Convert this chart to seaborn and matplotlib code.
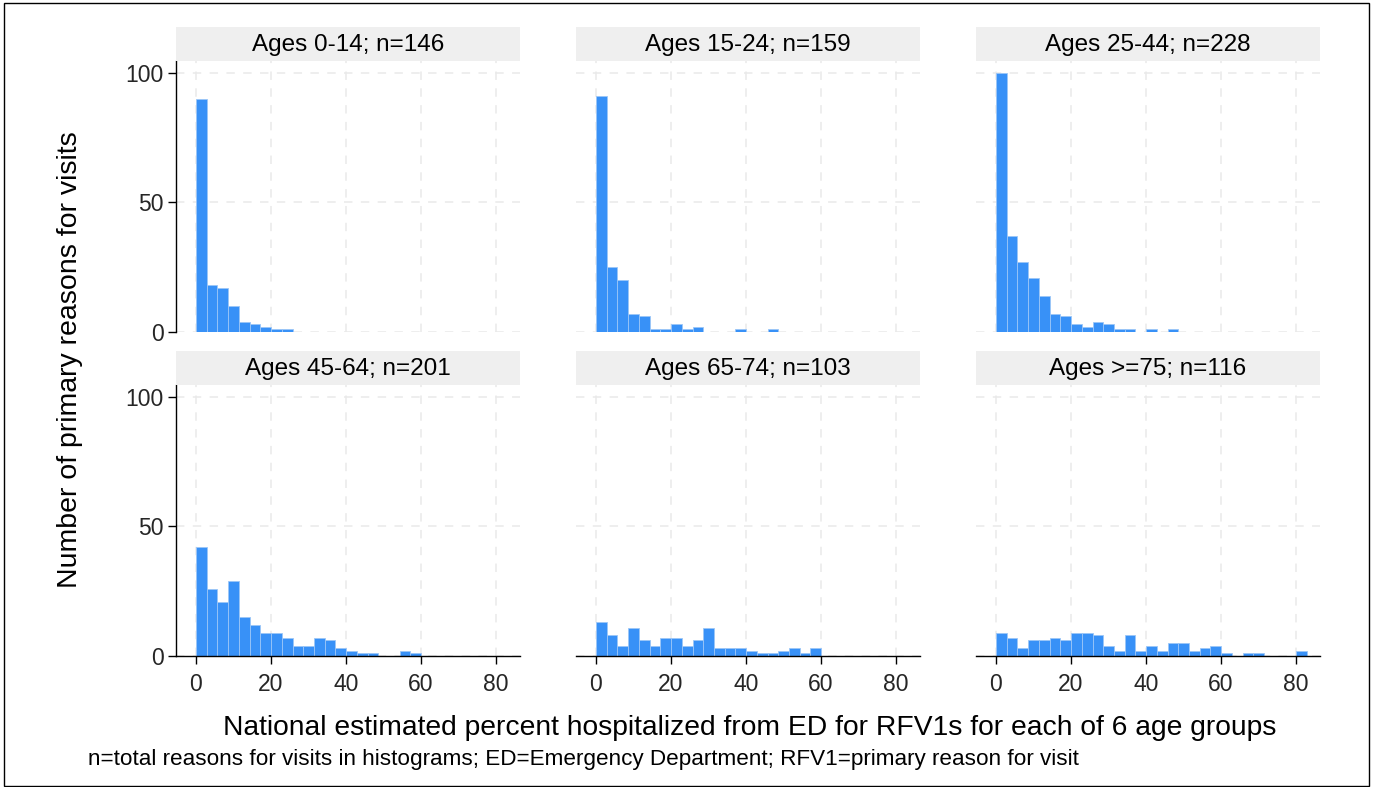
import numpy as np
import pandas as pd
import seaborn as sns
import matplotlib.pyplot as plt
from matplotlib.patches import Rectangle

# ---- data (counts per histogram bin) ----
panel_titles = ["Ages 0-14; n=146", "Ages 15-24; n=159", "Ages 25-44; n=228",
                "Ages 45-64; n=201", "Ages 65-74; n=103", "Ages >=75; n=116"]
bin_width = 2.86
n_bins = 29
counts_0_14 = [90, 18, 17, 10, 4, 3, 2, 1, 1]
counts_15_24 = [91, 25, 20, 7, 6, 1, 1, 3, 1, 2, 0, 0, 0, 1, 0, 0, 1]
counts_25_44 = [100, 37, 27, 21, 14, 7, 6, 3, 2, 4, 3, 1, 1, 0, 1, 0, 1]
counts_45_64 = [42, 26, 21, 29, 15, 12, 9, 9, 7, 4, 4, 7, 6, 3, 2, 1, 1, 0, 0, 2, 1]
counts_65_74 = [13, 8, 4, 11, 6, 4, 7, 7, 4, 6, 11, 3, 3, 3, 2, 1, 1, 2, 3, 1, 3]
counts_75_up = [9, 7, 3, 6, 6, 7, 6, 9, 9, 8, 4, 2, 8, 2, 4, 2, 5, 5, 2, 3, 4, 1, 0, 1, 1, 0, 0, 0, 2]
x_ticks = [0, 20, 40, 60, 80]
y_ticks = [0, 50, 100]
x_label = "National estimated percent hospitalized from ED for RFV1s for each of 6 age groups"
y_label = "Number of primary reasons for visits"
note = "n=total reasons for visits in histograms; ED=Emergency Department; RFV1=primary reason for visit"

all_counts = [counts_0_14, counts_15_24, counts_25_44, counts_45_64, counts_65_74, counts_75_up]
rows = []
for title, cnts in zip(panel_titles, all_counts):
    for i, c in enumerate(cnts):
        rows.append({"panel": title, "mid": (i + 0.5) * bin_width, "count": c})
df = pd.DataFrame(rows)

sns.set_theme(style="white")
plt.rcParams["font.family"] = ["Liberation Sans", "DejaVu Sans"]

BAR = "#3891f7"
g = sns.FacetGrid(df, col="panel", col_wrap=3, col_order=panel_titles,
                  sharex=True, sharey=True, height=3, aspect=1.2)
g.map_dataframe(sns.histplot, x="mid", weights="count", binwidth=bin_width,
                binrange=(0, n_bins * bin_width),
                color=BAR, edgecolor="#9cc6f7", linewidth=0.6, alpha=1.0)

fig = g.figure
fig.set_size_inches(13.77, 7.87)
W, H = 1377.0, 787.0

lefts = [176, 576, 976]
tops = [61, 385]
aw, ah = 344, 271
strip_h = 34

for k, ax in enumerate(g.axes.flat):
    r, c = divmod(k, 3)
    x0 = lefts[c]
    y0 = tops[r]
    ax.set_position([x0 / W, 1 - (y0 + ah) / H, aw / W, ah / H])
    ax.set_xlim(-5.33, 86.4)
    ax.set_ylim(0, 104.6)
    ax.set_title("")
    ax.set_xlabel("")
    ax.set_ylabel("")
    ax.set_xticks(x_ticks)
    ax.set_yticks(y_ticks)
    ax.set_axisbelow(True)
    ax.grid(True, linestyle=(0, (5.5, 5.5)), color="#e9e9e9", linewidth=1.1)
    for s in ax.spines.values():
        s.set_visible(False)
    ax.spines["left"].set_visible(c == 0)
    ax.spines["bottom"].set_visible(r == 1)
    for s in ("left", "bottom"):
        ax.spines[s].set_color("black")
        ax.spines[s].set_linewidth(1.0)
    ax.tick_params(axis="y", left=(c == 0), labelleft=(c == 0), length=6,
                   width=1.0, color="black", labelsize=16.5, pad=3)
    ax.tick_params(axis="x", bottom=(r == 1), labelbottom=(r == 1), length=6,
                   width=1.0, color="black", labelsize=16.5, pad=6)
    # strip
    sy = y0 - strip_h
    fig.patches.append(Rectangle((x0 / W, 1 - y0 / H), aw / W, strip_h / H,
                                 transform=fig.transFigure, facecolor="#efefef",
                                 edgecolor="none", zorder=0))
    fig.text((x0 + aw / 2) / W, 1 - (sy + strip_h / 2 + 1) / H, panel_titles[k],
             ha="center", va="center", fontsize=17.5, color="black")

fig.text(70 / W, 1 - 360 / H, y_label, rotation=90, ha="center", va="center",
         fontsize=20.5, color="black")
fig.text(749.5 / W, 1 - 728 / H, x_label, ha="center", va="center",
         fontsize=20.3, color="black")
fig.text(88 / W, 1 - 759 / H, note, ha="left", va="center",
         fontsize=16.2, color="black")

fig.patches.append(Rectangle((4 / W, 1 / H), 1365 / W, 783 / H,
                             transform=fig.transFigure, facecolor="none",
                             edgecolor="black", linewidth=1.0))

fig.savefig("out.png", dpi=100, facecolor="white")
